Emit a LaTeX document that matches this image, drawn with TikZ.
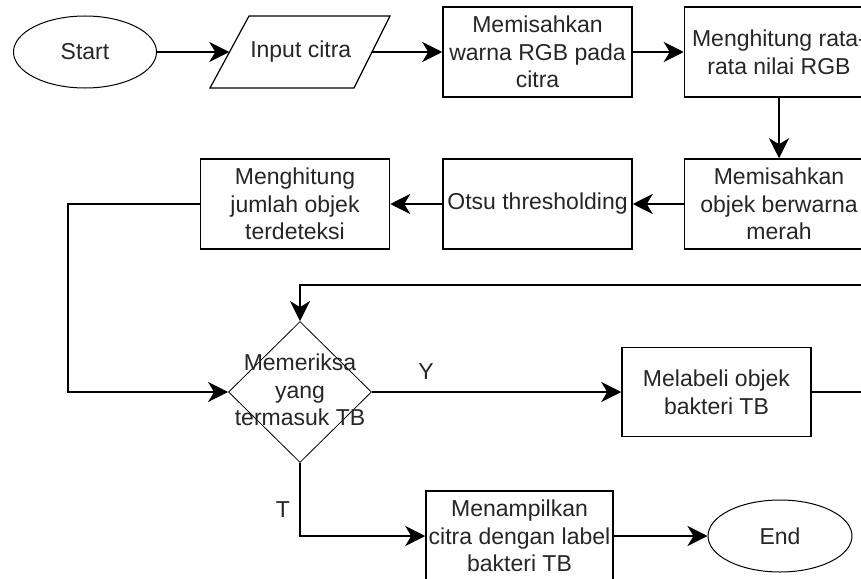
\documentclass[tikz,border=0pt]{standalone}
\usepackage{fontspec}
\setmainfont{Liberation Sans}
\usetikzlibrary{shapes.geometric,arrows.meta}
\begin{document}
\begin{tikzpicture}[x=1pt,y=-1pt,
 txt/.style={font=\fontsize{23}{27.6}\selectfont, text=black!85},
 box/.style={txt, draw, line width=1.5pt, minimum width=189pt, minimum height=90pt, inner sep=0pt, align=center},
 term/.style={txt, draw, ellipse, line width=1pt, minimum width=143pt, minimum height=72pt, inner sep=0pt},
 conn/.style={line width=2.7pt, -{Stealth[length=20pt,width=20pt,inset=6pt]}},
 lbl/.style={txt, inner sep=0pt, align=center}
]
\clip (0,0) rectangle (861,578);
\fill[white] (0,0) rectangle (861,578);
% nodes
\node[term] (start) at (85,52) {Start};
\draw[line width=1.2pt] (249,16) -- (390,16) -- (354,88) -- (210,88) -- cycle;
\node[lbl, minimum width=142.5pt, minimum height=72pt] (input) at (300.75,52) {Input citra};
\node[box] (rgb) at (537.5,52) {Memisahkan\\warna RGB pada\\citra};
\node[box] (rata) at (779,52) {Menghitung rata-\\rata nilai RGB};
\node[box] (objek) at (779,204) {Memisahkan\\objek berwarna\\merah};
\node[box] (otsu) at (537.5,204) {Otsu thresholding};
\node[box] (jumlah) at (295,204) {Menghitung\\jumlah objek\\terdeteksi};
\node[draw, diamond, line width=0.8pt, minimum width=143pt, minimum height=141pt, inner sep=0pt] (dia) at (300,392) {};
\node[lbl] (diatext) at (300,390) {Memeriksa\\yang\\termasuk TB};
\node[box, minimum height=89pt] (label) at (716.5,392) {Melabeli objek\\bakteri TB};
\node[box, minimum width=187pt] (tampil) at (519.5,536) {Menampilkan\\citra dengan label\\bakteri TB};
\node[term, minimum width=144pt] (end) at (780,536) {End};
\node[lbl] (ylbl) at (426,372) {Y};
\node[lbl] (tlbl) at (283,510) {T};
% coordinates
\coordinate (jl) at (68,204);
\coordinate (loopR) at (885,285);
% connectors
\draw[conn] (start) -- (input.west);
\draw[conn] (input.east) -- (rgb);
\draw[conn] (rgb) -- (rata);
\draw[conn] (rata) -- (objek);
\draw[conn] (objek) -- (otsu);
\draw[conn] (otsu) -- (jumlah);
\draw[conn] (jumlah.west) -- (jl) |- (dia.west);
\draw[conn] (dia.east) -- (label.west);
\draw[conn] (label.east) -| (loopR) -| (dia.north);
\draw[conn] (dia.south) |- (tampil.west);
\draw[conn] (tampil) -- (end);
\end{tikzpicture}
\end{document}
